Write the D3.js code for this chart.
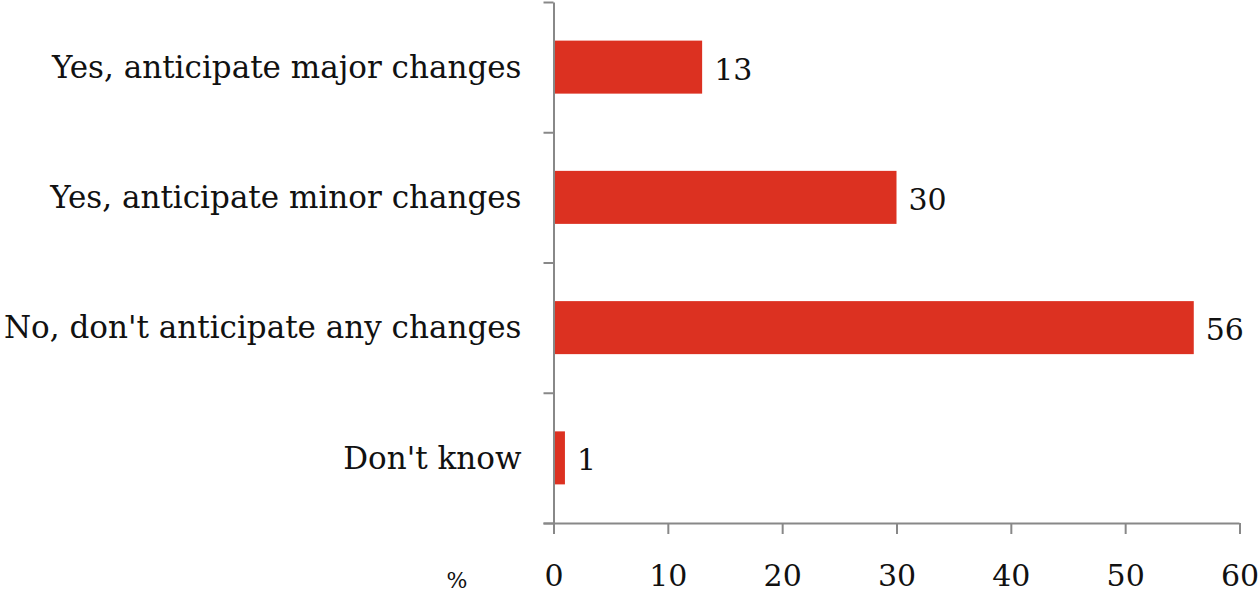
<!DOCTYPE html>
<html>
<head>
<meta charset="utf-8">
<script src="https://cdn.jsdelivr.net/npm/d3@7"></script>
<style>
  body { margin: 0; background: #fff; }
  text { font-family: "DejaVu Serif", "Liberation Serif", serif; fill: #111; }
</style>
</head>
<body>
<div id="chart"></div>
<script>
const categories = ["Yes, anticipate major changes", "Yes, anticipate minor changes", "No, don't anticipate any changes", "Don't know"];
const values = [13, 30, 56, 1];
const xTicks = [0, 10, 20, 30, 40, 50, 60];

const width = 1260, height = 595;
const margin = { left: 553.5, right: 1239.5, top: 2, bottom: 523 };

const svg = d3.select("#chart")
    .append("svg")
    .attr("width", width)
    .attr("height", height);

const x = d3.scaleLinear().domain([0, 60]).range([margin.left, margin.right]);
const y = d3.scaleBand().domain(categories).range([margin.top, margin.bottom])
    .paddingInner(0.593).paddingOuter(0.2965);

// bars
svg.selectAll("rect.bar")
    .data(values)
    .join("rect")
    .attr("class", "bar")
    .attr("x", x(0))
    .attr("y", (d, i) => y(categories[i]))
    .attr("width", d => x(d) - x(0))
    .attr("height", y.bandwidth())
    .attr("fill", "#dc3121");

// value labels
svg.selectAll("text.val")
    .data(values)
    .join("text")
    .attr("class", "val")
    .attr("x", d => x(d) + 12)
    .attr("y", (d, i) => y(categories[i]) + y.bandwidth() / 2 + 2)
    .attr("dy", "0.35em")
    .attr("font-size", "30px")
    .text(d => d);

// category labels
svg.selectAll("text.cat")
    .data(categories)
    .join("text")
    .attr("class", "cat")
    .attr("x", margin.left - 32)
    .attr("y", d => y(d) + y.bandwidth() / 2)
    .attr("dy", "0.35em")
    .attr("text-anchor", "end")
    .attr("font-size", "31px")
    .text(d => d);

// y axis with ticks at band edges
const yEdges = d3.scaleLinear().domain([0, categories.length]).range([margin.top, margin.bottom]);
const yAxis = svg.append("g")
    .attr("transform", `translate(${margin.left},0)`)
    .call(d3.axisLeft(yEdges).ticks(categories.length).tickFormat("").tickSize(10).tickSizeOuter(0));

// x axis
const xAxis = svg.append("g")
    .attr("transform", `translate(0,${margin.bottom})`)
    .call(d3.axisBottom(x).tickValues(xTicks).tickSize(11).tickSizeOuter(0).tickPadding(31));

xAxis.select(".domain").attr("d", `M${margin.left - 10},0.5H${margin.right}`);

[xAxis, yAxis].forEach(g => {
    g.selectAll(".domain, line").attr("stroke", "#888").attr("stroke-width", 2);
});
xAxis.selectAll("text").attr("font-size", "30px").attr("font-family", "DejaVu Serif").attr("fill", "#111");

svg.append("text")
    .attr("x", 457)
    .attr("y", 588)
    .attr("text-anchor", "middle")
    .attr("font-size", "22px")
    .text("%");
</script>
</body>
</html>
